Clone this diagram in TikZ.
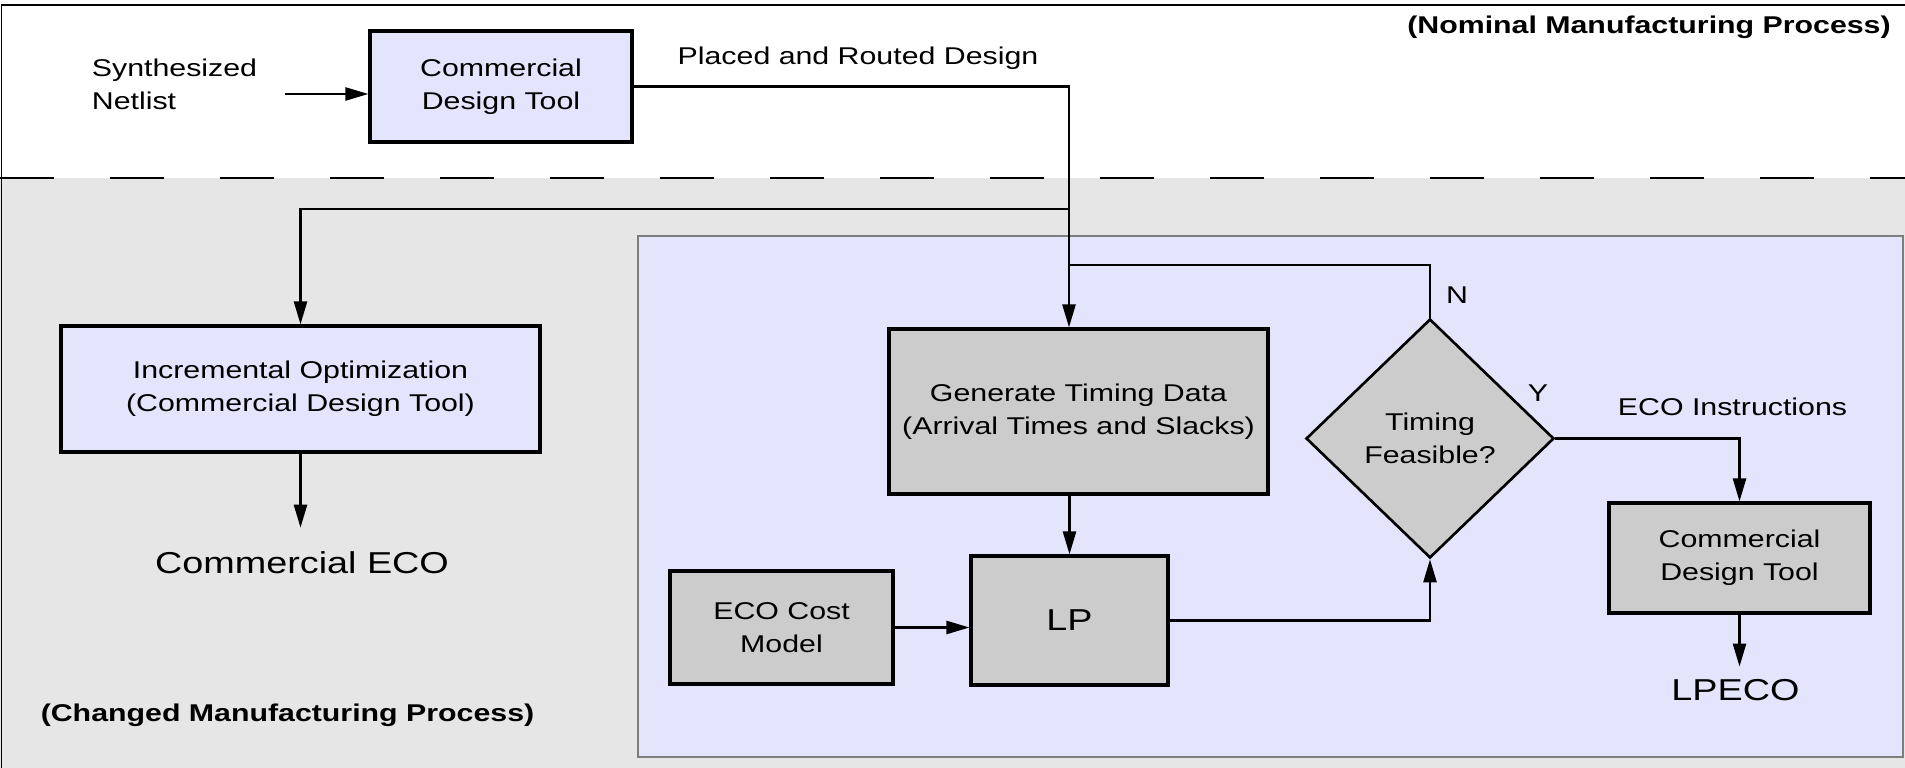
\documentclass[tikz,border=0pt]{standalone}
\usepackage{fontspec}
\setmainfont{Liberation Sans}[FakeStretch=1.25]
\usepackage{tikz}
\usetikzlibrary{arrows.meta,positioning,shapes.geometric,calc}
\definecolor{lavender}{RGB}{228,228,252}
\definecolor{boxgray}{RGB}{204,204,204}
\definecolor{bggray}{RGB}{230,230,230}
\definecolor{framegray}{RGB}{125,125,125}

\begin{document}
\begin{tikzpicture}[
    font=\fontsize{13.8}{18.8}\selectfont,
    toolbox/.style={draw, line width=1.8pt, fill=lavender, align=center, inner sep=0pt},
    stepbox/.style={draw, line width=1.8pt, fill=boxgray, align=center, inner sep=0pt},
    flow/.style={line width=1.4pt, -{Triangle[length=4.6mm,width=2.6mm]}},
    link/.style={line width=1.4pt},
    bigtext/.style={font=\fontsize{17.2}{20}\selectfont},
    regiontext/.style={font=\fontsize{13.8}{18.8}\selectfont\bfseries}
  ]
  \useasboundingbox (0,0) rectangle (38.1,15.36);
  % nominal (top) and changed (bottom) regions
  \fill[white] (0,11.8) rectangle (38.1,15.36);
  \fill[bggray] (0,0) rectangle (38.1,11.8);
  \draw[line width=1pt] (0.03,0) -- (0.03,15.26) -- (38.1,15.26);
  \draw[line width=1.5pt, dash pattern=on 1.08cm off 1.12cm] (0,11.8) -- (38.1,11.8);
  \draw[framegray, line width=1.6pt, fill=lavender] (12.76,0.22) rectangle (38.06,10.64);

  % nominal flow
  \node[align=left, inner xsep=0.56cm] (netlist) at (3.49,13.68) {Synthesized\\Netlist};
  \node[toolbox, minimum width=5.24cm, minimum height=2.22cm] (tool) at (10.02,13.63) {Commercial\\Design Tool};
  \node (placed) at (17.16,14.2) {Placed and Routed Design};
  \node[regiontext] (nominal) at (32.98,14.82) {(Nominal Manufacturing Process)};

  % commercial ECO path
  \node[toolbox, minimum width=9.58cm, minimum height=2.52cm] (incr) at (6.01,7.58) {Incremental Optimization\\(Commercial Design Tool)};
  \node[bigtext] (commeco) at (6.04,4.1) {Commercial ECO};
  \node[regiontext] (changed) at (5.75,1.06) {(Changed Manufacturing Process)};

  % LP based ECO loop
  \node[stepbox, minimum width=7.58cm, minimum height=3.3cm] (timing) at (21.57,7.13) {Generate Timing Data\\(Arrival Times and Slacks)};
  \node[stepbox, bigtext, minimum width=3.94cm, minimum height=2.58cm] (lp) at (21.39,2.95) {LP};
  \node[stepbox, minimum width=4.46cm, minimum height=2.26cm] (cost) at (15.63,2.81) {ECO Cost\\Model};
  \node[diamond, draw, line width=1.5pt, fill=boxgray, align=center, inner sep=0pt,
        minimum width=4.96cm, minimum height=4.78cm] (feasible) at (28.6,6.59) {Timing\\Feasible?};
  \node (nlabel) at (29.14,9.46) {N};
  \node (ylabel) at (30.76,7.5) {Y};
  \node (instr) at (34.65,7.22) {ECO Instructions};
  \node[stepbox, minimum width=5.22cm, minimum height=2.2cm] (ctool) at (34.79,4.2) {Commercial\\Design Tool};
  \node[bigtext] (lpeco) at (34.71,1.56) {LPECO};

  \coordinate (split) at (21.38,11.18);
  \coordinate (nsplit) at (21.38,10.06);

  % connectors
  \draw[flow] ([yshift=-0.2cm]netlist.east) -- ([yshift=-0.2cm]netlist.east -| tool.west);
  \draw[link] (tool.east) -| (split);
  \draw[flow] (split) -| (incr.north);
  \draw[flow] (split) -- (split |- timing.north);
  \draw[flow, shorten >=0.36cm] (incr.south) -- (incr.south |- commeco.north);
  \draw[flow] (timing.south -| lp) -- (lp.north);
  \draw[flow] (cost.east) -- (cost.east -| lp.west);
  \draw[flow] (lp.east) -| (feasible.south);
  \draw[link] (feasible.north) |- (nsplit);
  \draw[flow] (feasible.east) -| (ctool.north);
  \draw[flow, shorten >=0.13cm] (ctool.south) -- (ctool.south |- lpeco.north);
\end{tikzpicture}
\end{document}
